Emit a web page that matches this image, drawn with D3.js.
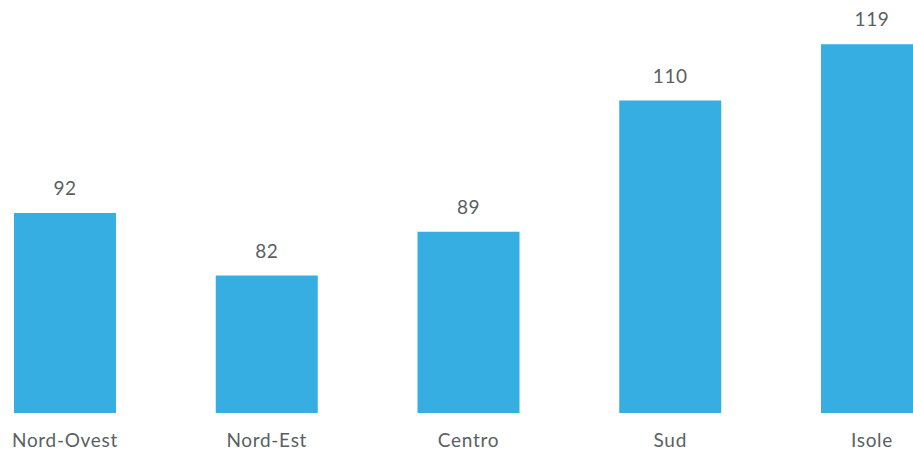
<!DOCTYPE html>
<html><head><meta charset="utf-8">
<script src="https://cdn.jsdelivr.net/npm/d3@7"></script>
<style>html,body{margin:0;padding:0;background:#fff;overflow:hidden}</style>
</head><body>
<svg id="c" width="913" height="453"></svg>
<script>
const categories = ["Nord-Ovest","Nord-Est","Centro","Sud","Isole"];
const values = [92, 82, 89, 110, 119];

const svg = d3.select("#c");
const baseY = 413;
const step = 201.75, bw = 102;
const x0 = 14 - (step - bw) / 2;
const xb = d3.scaleBand().domain(categories)
  .range([x0, x0 + step * 5])
  .paddingInner((step - bw) / step).paddingOuter((step - bw) / step / 2);
const y = d3.scaleLinear().domain([60, 126.08]).range([baseY, 0]);

const font = "Lato, 'Open Sans', sans-serif";
svg.selectAll("rect.bar").data(values).join("rect")
  .attr("class", "bar")
  .attr("x", (d, i) => xb(categories[i]))
  .attr("width", xb.bandwidth())
  .attr("y", d => y(d))
  .attr("height", d => baseY - y(d))
  .attr("fill", "#36aee2");

svg.selectAll("text.val").data(values).join("text")
  .attr("class", "val")
  .attr("x", (d, i) => xb(categories[i]) + xb.bandwidth() / 2)
  .attr("y", d => y(d) - 18)
  .attr("text-anchor", "middle")
  .attr("font-family", font).attr("font-size", 19)
  .attr("letter-spacing", 0.6)
  .attr("fill", "#5a5f64")
  .text(d => d);

svg.selectAll("text.cat").data(categories).join("text")
  .attr("class", "cat")
  .attr("x", d => xb(d) + xb.bandwidth() / 2)
  .attr("y", 447)
  .attr("text-anchor", "middle")
  .attr("font-family", font).attr("font-size", 19)
  .attr("letter-spacing", 0.7)
  .attr("fill", "#5a5f64")
  .text(d => d);
</script>
</body></html>
